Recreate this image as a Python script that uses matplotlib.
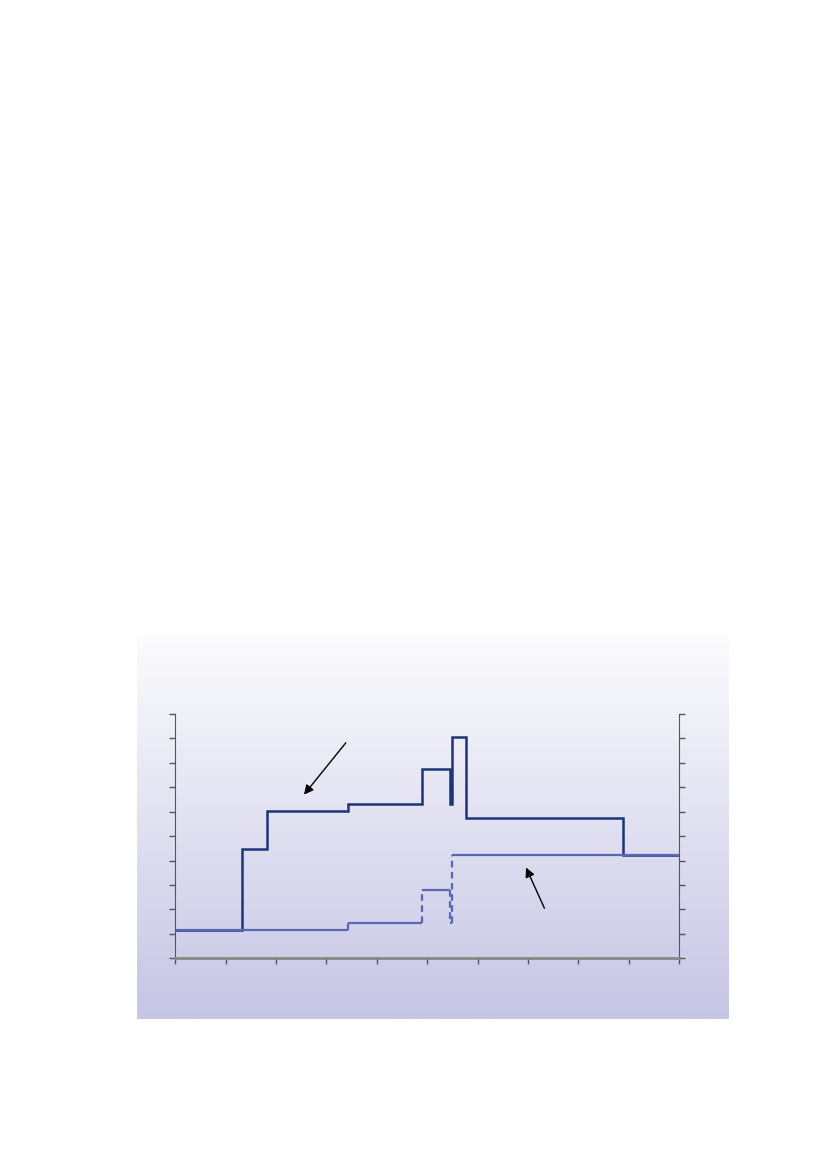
import matplotlib
matplotlib.use("Agg")
import matplotlib.pyplot as plt
import numpy as np

# step series (x edges and level values)
upper_edges = [0, 1.32, 1.82, 3.43, 4.90, 5.46, 5.49, 5.77, 8.88, 10]
upper_values = [1.16, 4.47, 6.03, 6.33, 7.75, 6.32, 9.07, 5.74, 4.22]

lower_edges = [0, 3.43, 4.90, 5.45, 5.49, 10]
lower_values = [1.16, 1.46, 2.80, 1.46, 4.24]

# arrows (tail, head)
arrow_upper = ((3.42, 8.91), (2.52, 6.61))
arrow_lower = ((7.35, 1.95), (6.94, 3.82))

dark = "#1c3578"
light = "#5c66b4"

fig = plt.figure(figsize=(8.27, 11.69), dpi=100)

# gradient panel behind the chart
bg = fig.add_axes([137 / 827, 1 - 1019 / 1169, 592 / 827, 384 / 1169])
top_c = np.array([252, 252, 254]) / 255
bot_c = np.array([197, 197, 229]) / 255
t = np.linspace(0, 1, 256)[:, None]
grad = top_c * (1 - t) + bot_c * t
bg.imshow(grad[:, None, :].repeat(2, axis=1), aspect="auto", extent=[0, 1, 0, 1])
bg.set_axis_off()

ax = fig.add_axes([175.3 / 827, 1 - 958.3 / 1169, 503.7 / 827, 244.3 / 1169])
ax.patch.set_alpha(0)

# lower series: solid horizontals, dashed verticals
ax.hlines(lower_values, lower_edges[:-1], lower_edges[1:], color=light, lw=1.6)
ax.vlines(lower_edges[1:-1], lower_values[:-1], lower_values[1:], color=light,
          lw=1.6, linestyles=(0, (3, 2)))

ax.stairs(upper_values, upper_edges, baseline=None, color=dark, lw=1.8)

for tail, head in (arrow_upper, arrow_lower):
    ax.annotate("", xy=head, xytext=tail,
                arrowprops=dict(arrowstyle="-|>", color="black", lw=1,
                                mutation_scale=14))

ax.set_xlim(0, 10)
ax.set_ylim(0, 10)
ax.set_xticks(np.arange(0, 11))
ax.set_yticks(np.arange(0, 11))
ax.tick_params(direction="out", length=4, width=1, color="#555555",
               labelleft=False, labelbottom=False, right=True)
ax.spines["top"].set_visible(False)
ax.spines["left"].set_color("#555555")
ax.spines["right"].set_color("#555555")
ax.spines["bottom"].set_color("#888888")
ax.spines["bottom"].set_linewidth(2)

fig.savefig("out.png", dpi=100)
